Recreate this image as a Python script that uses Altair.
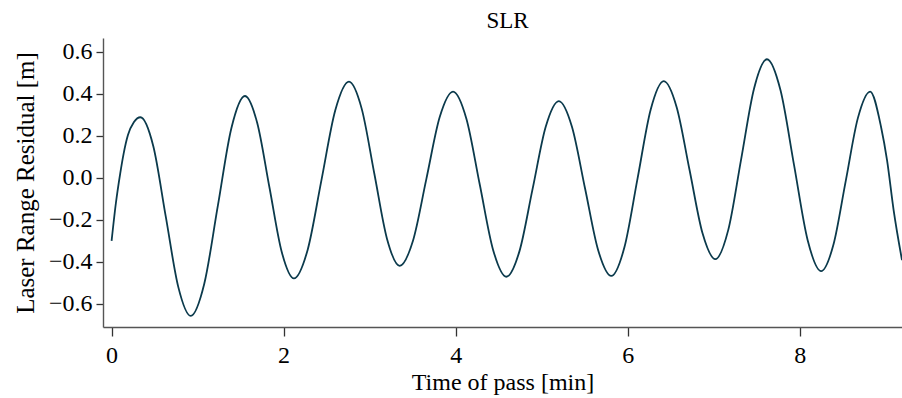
import altair as alt
import pandas as pd

# Values (time in minutes, residual in metres)
time_min = [
    0.00, 0.05, 0.10, 0.14, 0.19, 0.26, 0.335,
    0.485, 0.63, 0.775, 0.92,
    1.0775, 1.235, 1.3925, 1.55,
    1.6925, 1.835, 1.9775, 2.12,
    2.28, 2.44, 2.60, 2.76,
    2.9075, 3.055, 3.2025, 3.35,
    3.505, 3.66, 3.815, 3.97,
    4.125, 4.28, 4.435, 4.59,
    4.7425, 4.895, 5.0475, 5.20,
    5.3525, 5.505, 5.6575, 5.81,
    5.9625, 6.115, 6.2675, 6.42,
    6.57, 6.72, 6.87, 7.02,
    7.17, 7.32, 7.47, 7.62,
    7.7775, 7.935, 8.0925, 8.25,
    8.3925, 8.535, 8.6775, 8.82,
    8.946, 9.016, 9.093, 9.19,
]
residual_m = [
    -0.300, -0.120, 0.020, 0.115, 0.203, 0.265, 0.288,
    0.150, -0.185, -0.519, -0.657,
    -0.504, -0.134, 0.236, 0.389,
    0.262, -0.045, -0.352, -0.479,
    -0.342, -0.011, 0.320, 0.457,
    0.329, 0.019, -0.291, -0.419,
    -0.298, -0.005, 0.289, 0.410,
    0.281, -0.031, -0.342, -0.471,
    -0.349, -0.053, 0.243, 0.365,
    0.243, -0.051, -0.345, -0.467,
    -0.331, -0.004, 0.324, 0.460,
    0.336, 0.037, -0.263, -0.387,
    -0.248, 0.089, 0.425, 0.564,
    0.416, 0.060, -0.296, -0.444,
    -0.319, -0.017, 0.285, 0.410,
    0.243, 0.084, -0.155, -0.392,
]
x_ticks = [0, 2, 4, 6, 8]
y_ticks = [-0.6, -0.4, -0.2, 0.0, 0.2, 0.4, 0.6]

df = pd.DataFrame({"t": time_min, "r": residual_m})

FONT = "Liberation Serif"

line = alt.Chart(df).mark_line(
    color="#0b3a4c", strokeWidth=1.8, interpolate="monotone", clip=True
).encode(
    x=alt.X(
        "t:Q",
        scale=alt.Scale(domain=[-0.1, 9.19], nice=False, zero=False),
        axis=alt.Axis(
            values=x_ticks, title="Time of pass [min]", format="d",
            tickSize=9, labelPadding=7, titlePadding=3, grid=False,
            titleFontSize=24,
        ),
    ),
    y=alt.Y(
        "r:Q",
        scale=alt.Scale(domain=[-0.71, 0.665], nice=False, zero=False),
        axis=alt.Axis(
            values=y_ticks, title="Laser Range Residual [m]", format=".1f",
            tickSize=7, labelPadding=4, titlePadding=10, grid=False,
            titleFontSize=25,
        ),
    ),
)

chart = line.properties(
    width=799,
    height=289,
    title=alt.TitleParams(
        "SLR", font=FONT, fontSize=23, fontWeight="normal",
        offset=5, dx=5, color="black",
    ),
    autosize=alt.AutoSizeParams(type="none"),
    padding={"left": 103, "top": 38, "right": 0, "bottom": 71},
).configure_view(stroke=None).configure_axis(
    labelFont=FONT, titleFont=FONT, labelFontSize=24,
    titleFontWeight="normal", labelColor="black", titleColor="black",
    domainColor="#555555", tickColor="#333333", domainWidth=1.4, tickWidth=1.3,
)

chart.save("out.html", embed_options={"renderer": "svg", "actions": False})
